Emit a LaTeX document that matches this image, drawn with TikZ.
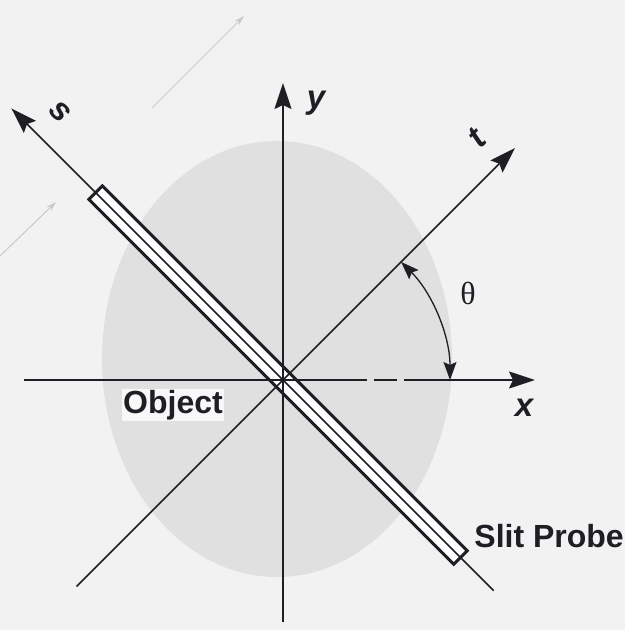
\documentclass[tikz,border=0pt]{standalone}
\usepackage{fontspec}
\setmainfont{Liberation Sans}
\newfontfamily\seriffont{Liberation Serif}
\usetikzlibrary{arrows.meta}
\definecolor{bgcol}{HTML}{F2F2F2}
\definecolor{objcol}{HTML}{E0E0E0}
\definecolor{inkcol}{HTML}{1E1E24}
\definecolor{ghostcol}{HTML}{C9C9C9}
\begin{document}
\begin{tikzpicture}[x=1pt,y=1pt,
  axis/.style={line width=1.6pt, draw=inkcol},
  tip/.style={-{Stealth[length=26pt,width=17pt,inset=4pt]}},
  smalltip/.style={{Stealth[length=18pt,width=13pt,inset=3pt]}-{Stealth[length=18pt,width=13pt,inset=3pt]}},
  probe/.style={line width=3pt, draw=inkcol, fill=white},
  lab/.style={font=\fontsize{32}{36}\selectfont\bfseries, text=inkcol, inner sep=1pt},
  axlab/.style={font=\fontsize{33}{36}\selectfont\bfseries\itshape, text=inkcol, inner sep=0pt},
  ghost/.style={line width=1pt, draw=ghostcol, -{Stealth[length=10pt,width=6pt]}},
]
\useasboundingbox (-283,-250) rectangle (342,380);
\fill[bgcol] (-283,-250) rectangle (342,380);
% faint ghost arrows
\coordinate (g1a) at (-131,272);
\coordinate (g1b) at (-39,364);
\coordinate (g2a) at (-283,124);
\coordinate (g2b) at (-227,178);
\draw[ghost] (g1a) -- (g1b);
\draw[ghost] (g2a) -- (g2b);
% object
\fill[objcol] (-6,21) ellipse [x radius=175, y radius=218];
% coordinates
\coordinate (O) at (0,0);
\coordinate (xL) at (-259,0);
\coordinate (xD1) at (84,0);
\coordinate (xD2) at (91,0);
\coordinate (xD3) at (114,0);
\coordinate (xD4) at (121,0);
\coordinate (xR) at (252,0);
\coordinate (yB) at (0,-242);
\coordinate (yT) at (0,297);
\coordinate (tB) at (225:292);
\coordinate (tT) at (45:328);
\coordinate (sB) at (-45:298);
\coordinate (sT) at (135:384);
\coordinate (a1) at (45:167);
% slit probe
\begin{scope}[rotate=135]
  \draw[probe] (-251,-9.5) rectangle (265,9.5);
\end{scope}
% axes
\draw[axis, tip] (sB) -- (sT);
\draw[axis, tip] (tB) -- (tT);
\draw[axis, tip] (yB) -- (yT);
\draw[axis] (xL) -- (xD1);
\draw[axis] (xD2) -- (xD3);
\draw[axis, tip] (xD4) -- (xR);
% theta arc
\draw[line width=1.3pt, draw=inkcol, smalltip] (a1) arc[start angle=45, end angle=0, radius=167];
% labels
\node[axlab] (xl) at (241,-28) {x};
\node[axlab] (yl) at (33,277) {y};
\node[axlab, rotate=45] (tl) at (194,242) {t};
\node[axlab, rotate=-45] (sl) at (-223,268) {s};
\node[font=\seriffont\fontsize{32}{36}\selectfont, text=inkcol] (th) at (185,87) {θ};
\node[lab, fill=bgcol!50!white] (obj) at (-110,-25) {Object};
\node[lab, anchor=east] (sp) at (342,-156) {Slit Probe};
\end{tikzpicture}
\end{document}
